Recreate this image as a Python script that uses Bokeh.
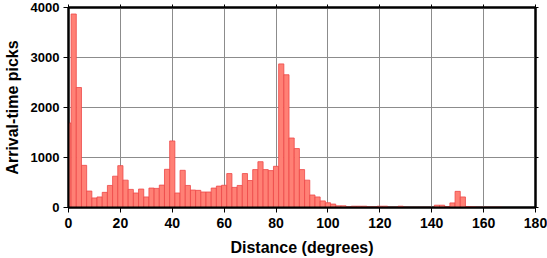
from bokeh.plotting import figure
from bokeh.models import Range1d, LinearAxis, FixedTicker
from bokeh.embed import file_html
from bokeh.resources import INLINE

# bin centers (degrees), 2-degree bins
centers = list(range(0, 182, 2))
counts = [1690, 3870, 2400, 843, 329, 191, 211, 303, 441, 626,
          837, 547, 362, 290, 369, 211, 389, 382, 448, 764,
          1331, 290, 744, 441, 349, 343, 310, 310, 389, 428,
          445, 679, 402, 441, 679, 540, 758, 916, 758, 738,
          824, 2872, 2655, 1390, 1179, 758, 547, 250, 211, 132,
          95, 69, 33, 33, 13, 26, 26, 26, 13, 13,
          26, 26, 7, 7, 26, 7, 5, 5, 5, 5,
          5, 46, 46, 20, 92, 323, 211, 20, 13, 7,
          7, 7, 7, 7, 0, 0, 0, 0, 0, 0, 0]
x_ticks = list(range(0, 181, 20))
y_ticks = [0, 1000, 2000, 3000, 4000]
bin_width = 2

FONT = "Liberation Sans"

p = figure(width=547, height=258, output_backend="svg", toolbar_location=None,
           x_range=Range1d(0, 180), y_range=Range1d(0, 4000),
           min_border_left=67, min_border_right=12, min_border_top=7, min_border_bottom=50,
           x_axis_label="Distance (degrees)", y_axis_label="Arrival-time picks")
p.background_fill_color = "white"
p.border_fill_color = "white"
p.outline_line_color = "black"
p.outline_line_width = 2
p.outline_line_alpha = 1

p.xaxis.ticker = FixedTicker(ticks=x_ticks)
p.yaxis.ticker = FixedTicker(ticks=y_ticks)
for ax in (p.xaxis[0], p.yaxis[0]):
    ax.axis_line_color = "black"
    ax.axis_line_width = 2
    ax.major_tick_line_color = "black"
    ax.major_tick_line_width = 1
    ax.major_tick_in = 0
    ax.major_tick_out = 5
    ax.minor_tick_line_color = None
    ax.major_label_text_font = FONT
    ax.major_label_text_font_style = "bold"
    ax.major_label_text_color = "black"
    ax.axis_label_text_font = FONT
    ax.axis_label_text_font_style = "bold"
    ax.axis_label_text_font_size = "16px"
    ax.axis_label_text_color = "black"
p.xaxis.axis_label_text_line_height = 1.0
p.xaxis.major_label_text_font_size = "14px"
p.yaxis.major_label_text_font_size = "13px"
p.xaxis.major_label_standoff = 5
p.yaxis.major_label_standoff = 4
p.xaxis.axis_label_standoff = 8
p.yaxis.axis_label_standoff = 7

for g in (p.xgrid[0], p.ygrid[0]):
    g.grid_line_color = "#8c8c8c"
    g.grid_line_width = 1
    g.grid_line_alpha = 1
    g.level = "underlay"

# top and right axes with outward ticks only
top = LinearAxis(ticker=FixedTicker(ticks=x_ticks), major_label_text_font_size="0px",
                 major_label_standoff=0, major_tick_in=0, major_tick_out=3,
                 minor_tick_line_color=None, axis_line_color="black", axis_line_width=2)
top.major_label_overrides = {t: "" for t in x_ticks}
right = LinearAxis(ticker=FixedTicker(ticks=y_ticks), major_label_text_font_size="0px",
                   major_label_standoff=0, major_tick_in=0, major_tick_out=3,
                   minor_tick_line_color=None, axis_line_color="black", axis_line_width=2)
right.major_label_overrides = {t: "" for t in y_ticks}
p.add_layout(top, "above")
p.add_layout(right, "right")

p.vbar(x=centers, top=counts, width=bin_width, bottom=0,
       fill_color="#FF8075", line_color="#EE4848", line_width=0.8)

open("out.html", "w").write(file_html(p, INLINE))
